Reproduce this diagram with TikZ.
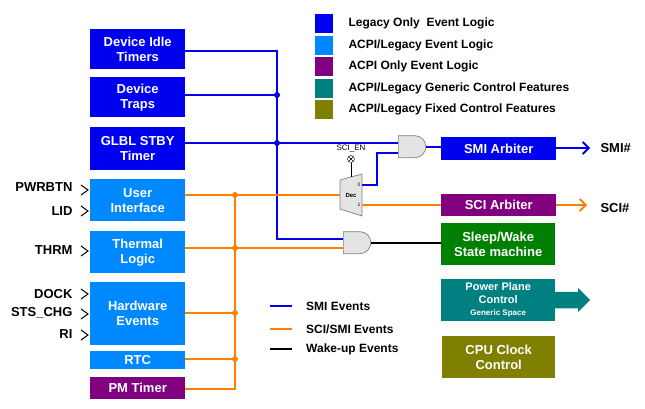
\documentclass[tikz,border=0pt]{standalone}
\usepackage{fontspec}
\setmainfont{Liberation Sans}
\usetikzlibrary{arrows.meta,shapes.gates.logic.US,shapes.arrows}
\definecolor{cblue}{RGB}{0,0,240}
\definecolor{clblue}{RGB}{0,136,255}
\definecolor{cpurp}{RGB}{128,0,128}
\definecolor{cteal}{RGB}{0,128,128}
\definecolor{colive}{RGB}{128,128,0}
\definecolor{cgreen}{RGB}{0,128,0}
\definecolor{corange}{RGB}{255,128,0}
\definecolor{cgate}{RGB}{228,228,228}
\tikzset{
 blk/.style={fill=#1,text=white,font=\bfseries\fontsize{13}{15}\selectfont,align=center,anchor=north west,inner sep=0pt},
 bl/.style={cblue,line width=1.8pt},
 ol/.style={corange,line width=1.8pt},
 kl/.style={black,line width=1.8pt},
 dot/.style={circle,fill=#1,inner sep=0pt,minimum size=6pt},
 lg/.style={font=\bfseries\fontsize{12}{13}\selectfont,anchor=west},
 inl/.style={font=\bfseries\fontsize{13}{14}\selectfont,anchor=east},
 gate/.style={draw=gray,fill=cgate,line width=0.7pt}
}
\newcommand{\chev}[2]{\draw[line width=1pt] (#1-7,#2-5)--(#1,#2)--(#1-7,#2+5);}
\begin{document}
\begin{tikzpicture}[x=1pt,y=-1pt]
\useasboundingbox (0,0) rectangle (645,409);
% left blocks
\node[blk=cblue,minimum width=95,minimum height=40] (dit) at (90,29) {Device Idle\\Timers};
\node[blk=cblue,minimum width=95,minimum height=40] (dtr) at (90,77) {Device\\Traps};
\node[blk=cblue,minimum width=95,minimum height=43] (glb) at (90,127) {GLBL STBY\\Timer};
\node[blk=clblue,minimum width=95,minimum height=42] (ui) at (90,179) {User\\Interface};
\node[blk=clblue,minimum width=95,minimum height=42] (th) at (90,231) {Thermal\\Logic};
\node[blk=clblue,minimum width=95,minimum height=63] (hw) at (90,282) {Hardware\\Events};
\node[blk=clblue,minimum width=95,minimum height=18] (rtc) at (90,351) {RTC};
\node[blk=cpurp,minimum width=95,minimum height=22] (pm) at (90,377) {PM Timer};
% right blocks
\node[blk=cblue,minimum width=115,minimum height=23] (smi) at (441,137) {SMI Arbiter};
\node[blk=cpurp,minimum width=115,minimum height=22] (sci) at (441,194) {SCI Arbiter};
\node[blk=cgreen,minimum width=114,minimum height=42] (slp) at (441,223) {Sleep/Wake\\State machine};
\node[blk=cteal,minimum width=114,minimum height=42,font=\bfseries\fontsize{11}{13}\selectfont] (ppc) at (441,279) {Power Plane\\Control\\[-1pt]{\fontsize{8}{9}\selectfont Generic Space}};
\node[blk=colive,minimum width=113,minimum height=42] (cpu) at (442,336) {CPU Clock\\Control};
\node[single arrow,fill=cteal,minimum height=35,minimum width=24,single arrow head extend=1pt,inner sep=2pt,anchor=tail] (parr) at (555,300) {};
% inputs
\node[inl] (pwr) at (76,187) {PWRBTN}; \chev{88}{190}
\node[inl] (lid) at (76,211) {LID}; \chev{88}{211}
\node[inl] (thr) at (76,250) {THRM}; \chev{88}{251}
\node[inl] (dock) at (76,294) {DOCK}; \chev{88}{294}
\node[inl] (sts) at (76,313) {STS\_CHG}; \chev{88}{314}
\node[inl] (ri) at (76,334) {RI}; \chev{88}{335}
% gates
\node[and gate US,gate,draw,logic gate inputs=nn,minimum height=22,minimum width=22,anchor=input 1] (org) at (398,143) {};
\node[and gate US,gate,draw,logic gate inputs=nn,minimum height=22,minimum width=22,anchor=input 1] (andg) at (343,239) {};
\draw[gate] (340,180)--(362,174)--(362,216)--(340,209)--cycle;
\node[font=\bfseries\fontsize{6}{7}\selectfont] (dec) at (351,195) {Dec};
\node[font=\fontsize{5}{6}\selectfont] (d0) at (359,185) {0};
\node[font=\fontsize{5}{6}\selectfont] (d1) at (359,205) {1};
\coordinate (dectop) at (351,177);
\coordinate (decin) at (340,195);
\node[circle,draw,fill=white,inner sep=0pt,minimum size=7pt,path picture={\draw (path picture bounding box.north west)--(path picture bounding box.south east) (path picture bounding box.north east)--(path picture bounding box.south west);}] (en) at (351,159) {};
\node[font=\fontsize{8}{9}\selectfont] (enl) at (351,149) {SCI\_EN};
\draw[line width=0.7pt] (en)--(dectop);
% blue wiring
\draw[bl] (dit.east|-0,51)--(277,51)--(277,239)--(andg.input 1|-0,239);
\draw[bl] (dtr.east|-0,95)--(277,95);
\draw[bl] (glb.east|-0,143)--(org.input 1|-0,143);
\draw[bl] (362,185)--(377,185)--(377,153)--(org.input 2|-0,153);
\draw[bl] (org.output)--(smi.west|-org.output);
\node[dot=cblue] (b1) at (277,95) {};
\node[dot=cblue] (b2) at (277,143) {};
\draw[bl,-{Straight Barb[length=6pt,width=12pt]}] (smi.east|-0,148)--(590,148) coordinate (smiend);
\node[font=\bfseries\fontsize{13}{14}\selectfont,anchor=west] (smil) at (597,148) {SMI\#};
% orange wiring
\draw[ol] (ui.east|-0,195)--(decin);
\draw[ol] (th.east|-0,248)--(andg.input 2|-0,248);
\draw[ol] (hw.east|-0,313)--(235,313);
\draw[ol] (rtc.east|-0,359)--(235,359);
\draw[ol] (pm.east|-0,389)--(235,389)--(235,195);
\foreach \y/\n in {195/o1,248/o2,313/o3,359/o4} \node[dot=corange] (\n) at (235,\y) {};
\draw[ol] (362,205)--(sci.west|-0,205);
\draw[ol,-{Straight Barb[length=6pt,width=12pt]}] (sci.east|-0,205)--(587,205);
\node[font=\bfseries\fontsize{13}{14}\selectfont,anchor=west] (scil) at (597,208) {SCI\#};
\draw[kl] (andg.output)--(slp.west|-andg.output);
% legend top
\foreach \y/\c/\t [count=\i] in {14/cblue/{Legacy Only\ \ Event Logic},36/clblue/{ACPI/Legacy Event Logic},57/cpurp/{ACPI Only Event Logic},79/cteal/{ACPI/Legacy Generic Control Features},100/colive/{ACPI/Legacy Fixed Control Features}}{
 \node[fill=\c,minimum width=18,minimum height=19,inner sep=0pt,anchor=north west] (lk\i) at (315,\y) {};
 \node[lg] (lt\i) at (345,\y+9) {\t};}
% legend bottom
\draw[bl] (270,306)--(292,306) node[lg,black,anchor=west,xshift=10] (le1) {SMI Events};
\draw[ol] (270,329)--(292,329) node[lg,black,anchor=west,xshift=10] (le2) {SCI/SMI Events};
\draw[kl] (270,349)--(292,349) node[lg,black,anchor=west,xshift=10] (le3) {Wake-up Events};
\end{tikzpicture}
\end{document}
